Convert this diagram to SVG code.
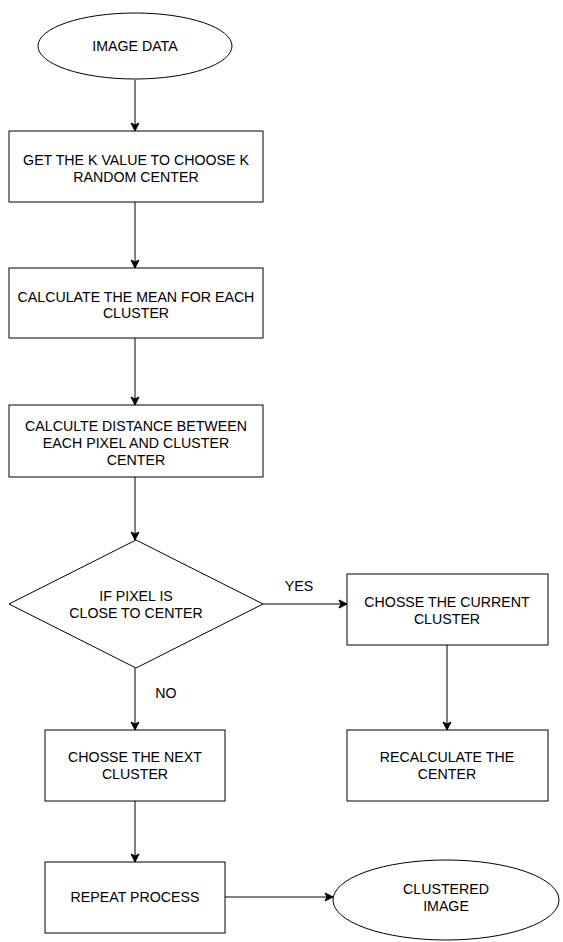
<svg xmlns="http://www.w3.org/2000/svg" width="563" height="942" viewBox="0 0 563 942">
<style>
.s{fill:#fff;stroke:#000;stroke-width:1}
.t{font-family:"Liberation Sans",Arial,sans-serif;font-size:14.2px;fill:#000;text-anchor:middle}
.c{fill:none;stroke:#000;stroke-width:1}
</style>
<defs>
<marker id="a" markerWidth="10" markerHeight="10" refX="9" refY="5" orient="auto" markerUnits="userSpaceOnUse">
<path d="M1,1 L9,5 L1,9 L3,5 Z" fill="#000" stroke="#000" stroke-width="1"/>
</marker>
</defs>
<rect width="563" height="942" fill="#fff"/>
<g id="connectors">
<line class="c" x1="135" y1="80" x2="135" y2="131" marker-end="url(#a)"/>
<line class="c" x1="135" y1="202" x2="135" y2="268" marker-end="url(#a)"/>
<line class="c" x1="135" y1="338" x2="135" y2="405" marker-end="url(#a)"/>
<line class="c" x1="135" y1="477" x2="135" y2="540" marker-end="url(#a)"/>
<line class="c" x1="263" y1="604" x2="347" y2="604" marker-end="url(#a)"/>
<line class="c" x1="135" y1="668" x2="135" y2="730" marker-end="url(#a)"/>
<line class="c" x1="447" y1="645" x2="447" y2="730" marker-end="url(#a)"/>
<line class="c" x1="135" y1="801" x2="135" y2="862" marker-end="url(#a)"/>
<line class="c" x1="225" y1="897" x2="333" y2="897" marker-end="url(#a)"/>
<text class="t" x="299" y="591">YES</text>
<text class="t" x="166" y="698">NO</text>
</g>
<g id="image-data">
<ellipse class="s" cx="135" cy="46" rx="97" ry="33"/>
<text class="t" x="135" y="51">IMAGE DATA</text>
</g>
<g id="get-k">
<rect class="s" x="9" y="131" width="254" height="71"/>
<text class="t" x="136" y="165">GET THE K VALUE TO CHOOSE K</text>
<text class="t" x="136" y="182">RANDOM CENTER</text>
</g>
<g id="calc-mean">
<rect class="s" x="9" y="268" width="254" height="70"/>
<text class="t" x="136" y="302">CALCULATE THE MEAN FOR EACH</text>
<text class="t" x="136" y="318">CLUSTER</text>
</g>
<g id="calc-distance">
<rect class="s" x="9" y="405" width="254" height="72"/>
<text class="t" x="136" y="431">CALCULTE DISTANCE BETWEEN</text>
<text class="t" x="136" y="448">EACH PIXEL AND CLUSTER</text>
<text class="t" x="136" y="465">CENTER</text>
</g>
<g id="decision">
<polygon class="s" points="136,540 263,604 136,668 9,604"/>
<text class="t" x="136" y="601">IF PIXEL IS</text>
<text class="t" x="136" y="618">CLOSE TO CENTER</text>
</g>
<g id="current-cluster">
<rect class="s" x="347" y="574" width="201" height="71"/>
<text class="t" x="447" y="607">CHOSSE THE CURRENT</text>
<text class="t" x="447" y="624">CLUSTER</text>
</g>
<g id="recalc">
<rect class="s" x="347" y="730" width="201" height="71"/>
<text class="t" x="447" y="762">RECALCULATE THE</text>
<text class="t" x="447" y="779">CENTER</text>
</g>
<g id="next-cluster">
<rect class="s" x="45" y="730" width="180" height="71"/>
<text class="t" x="135" y="762">CHOSSE THE NEXT</text>
<text class="t" x="135" y="779">CLUSTER</text>
</g>
<g id="repeat">
<rect class="s" x="45" y="862" width="180" height="71"/>
<text class="t" x="135" y="902">REPEAT PROCESS</text>
</g>
<g id="clustered-image">
<ellipse class="s" cx="446" cy="900" rx="113" ry="40"/>
<text class="t" x="446" y="894">CLUSTERED</text>
<text class="t" x="446" y="911">IMAGE</text>
</g>
</svg>
